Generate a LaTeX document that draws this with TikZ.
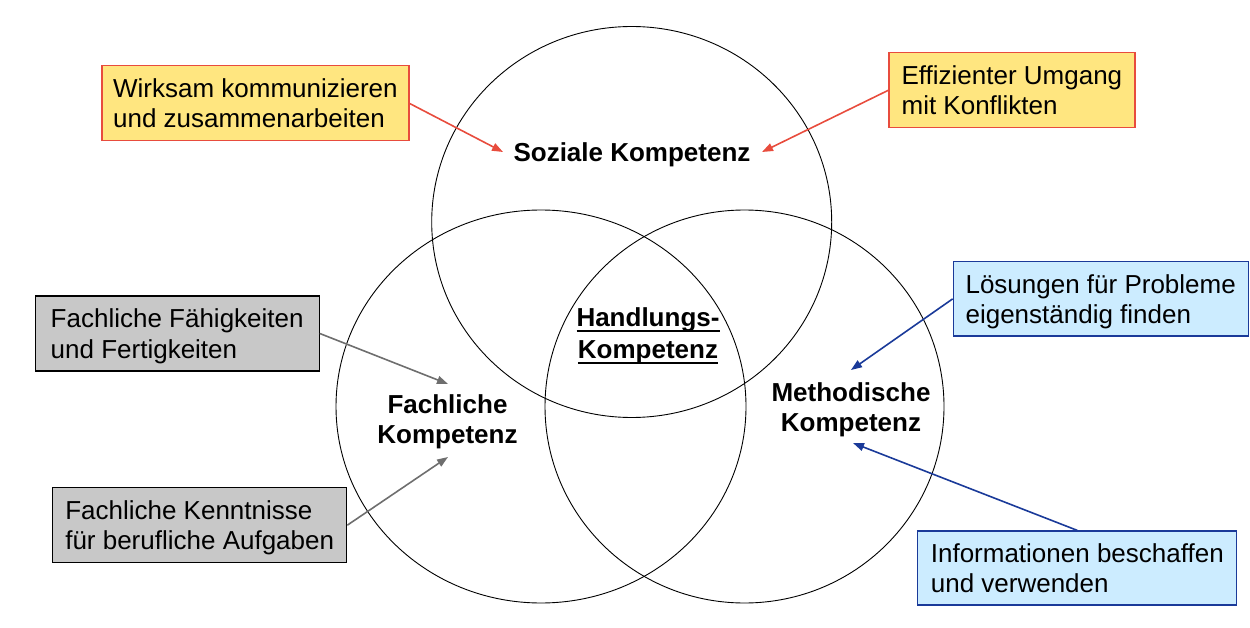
\documentclass[tikz,border=0pt]{standalone}
\usepackage{fontspec}
\setmainfont{Liberation Sans}
\usetikzlibrary{arrows.meta}
\definecolor{redc}{HTML}{E84C3D}
\definecolor{yellowc}{HTML}{FFE680}
\definecolor{grayfill}{HTML}{C8C8C8}
\definecolor{grayline}{HTML}{6E6E6E}
\definecolor{bluefill}{HTML}{CCECFF}
\definecolor{bluec}{HTML}{1A3A99}
\newcommand\myul[1]{\setbox0\hbox{#1}\rlap{\rule[-5.5pt]{\wd0}{2pt}}\box0}
\begin{document}
\begin{tikzpicture}[x={(1pt,0)},y={(0,-1pt)},
  txt/.style={font=\fontsize{26}{30.5}\selectfont},
  lbl/.style={font=\fontsize{26}{30}\selectfont\bfseries, align=center, inner sep=0},
  infobox/.style={txt, draw, line width=1.2pt, minimum height=75pt, align=left, inner sep=0},
  ybox/.style={infobox, draw=redc, fill=yellowc},
  gbox/.style={infobox, draw=black, fill=grayfill},
  bbox/.style={infobox, draw=bluec, fill=bluefill},
  conn/.style={line width=1.6pt, -{Triangle[length=11pt,width=8pt]}},
  circ/.style={draw=black, line width=0.9pt}
]
\useasboundingbox (0,0) rectangle (1250,628);

% circles
\draw[circ] (631.7,222) ellipse [x radius=200, y radius=195.5];
\draw[circ] (541,406.5) ellipse [x radius=205, y radius=196.5];
\draw[circ] (744.5,406.5) ellipse [x radius=199.5, y radius=196.5];

% labels
\node[lbl, anchor=base] (soz) at (632,162) {Soziale Kompetenz};
\node[lbl, font=\fontsize{26}{31.5}\selectfont\bfseries] (hand) at (648,336) {\myul{Handlungs-}\\\myul{Kompetenz}};
\node[lbl] (fach) at (447.5,422) {Fachliche\\Kompetenz};
\node[lbl] (meth) at (851,410) {Methodische\\Kompetenz};

% boxes
\node[ybox, minimum width=307pt] (y1) at (255.4,103.4) {Wirksam kommunizieren\\und zusammenarbeiten};
\node[ybox, minimum width=246pt] (y2) at (1011.9,90.3) {Effizienter Umgang\\mit Konflikten};
\node[gbox, minimum width=284pt] (g1) at (177.2,333.5) {Fachliche Fähigkeiten\\\smash{und Fertigkeiten}};
\node[gbox, minimum width=294pt] (g2) at (199.7,525.2) {Fachliche Kenntnisse\\\smash{für berufliche Aufgaben}};
\node[bbox, minimum width=295pt, minimum height=74pt] (b1) at (1100.7,298.9) {Lösungen für Probleme\\\smash{eigenständig finden}};
\node[bbox, minimum width=319pt, minimum height=74pt] (b2) at (1077.3,568) {Informationen beschaffen\\und verwenden};

% arrow targets
\coordinate (t1) at (503,152);
\coordinate (t2) at (762,152);
\coordinate (t3) at (448,384);
\coordinate (t4) at (448,457);
\coordinate (t5) at (851,370);
\coordinate (t6) at (853,443);

\draw[conn, redc] (y1.east) -- (t1);
\draw[conn, redc] (y2.west) -- (t2);
\draw[conn, grayline] (g1.east) -- (t3);
\draw[conn, grayline] (g2.east) -- (t4);
\draw[conn, bluec] (b1.west) -- (t5);
\draw[conn, bluec] (b2.north) -- (t6);
\end{tikzpicture}
\end{document}
